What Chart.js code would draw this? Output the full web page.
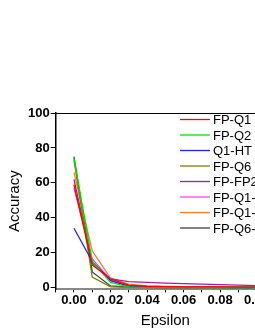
<!DOCTYPE html>
<html>
<head>
<meta charset="utf-8">
<script src="https://cdn.jsdelivr.net/npm/chart.js@4"></script>
<style>
  html, body { margin: 0; padding: 0; background: #fff; overflow: hidden; }
  #wrap { width: 255px; height: 330px; overflow: hidden; }
</style>
</head>
<body>
<div id="wrap"><canvas id="accChart" width="300" height="330"></canvas></div>
<script>
const epsilon = [0, 0.01, 0.02, 0.03, 0.04, 0.05, 0.06, 0.07, 0.08, 0.09, 0.1, 0.11];
const seriesNames = ["FP-Q1", "FP-Q2", "Q1-HT", "FP-Q6", "FP-FP2", "FP-Q1-HT", "FP-Q1-FP2", "FP-Q6-HT"];
const seriesColors = ["#ff0000", "#00e000", "#2020ff", "#808000", "#a020a0", "#ff40ff", "#ff8020", "#404040"];
const fpQ1 = [59, 13, 5, 1.5, 0.8, 0.6, 0.5, 0.4, 0.4, 0.3, 0.3, 0.3];
const fpQ2 = [74, 15, 3, 0.5, 0.3, 0.2, 0.2, 0.2, 0.1, 0.1, 0.1, 0.1];
const q1Ht = [34, 15, 4, 0.8, 0.4, 0.3, 0.2, 0.2, 0.2, 0.1, 0.1, 0.1];
const fpQ6 = [73, 6, 0.5, 0.2, 0.1, 0.1, 0.1, 0.1, 0.1, 0.1, 0.1, 0.1];
const fpFp2 = [62, 14, 5, 3.5, 3, 2.6, 2.3, 2, 1.7, 1.4, 1.2, 1.1];
const fpQ1Ht = [57, 16.5, 4.5, 1, 0.5, 0.4, 0.3, 0.3, 0.2, 0.2, 0.2, 0.2];
const fpQ1Fp2 = [66, 21, 5.5, 2, 1, 0.7, 0.6, 0.5, 0.4, 0.4, 0.3, 0.3];
const fpQ6Ht = [75, 9, 1, 0.3, 0.2, 0.1, 0.1, 0.1, 0.1, 0.1, 0.1, 0.1];
const allSeries = [fpQ1, fpQ2, q1Ht, fpQ6, fpFp2, fpQ1Ht, fpQ1Fp2, fpQ6Ht];
const yTicks = [0, 20, 40, 60, 80, 100];

const FONT = "'Liberation Sans', Arial, sans-serif";

// frame line on top of the plot + legend inside the chart area
const framePlugin = {
  id: "frame",
  afterDraw(chart) {
    const ctx = chart.ctx;
    const a = chart.chartArea;
    ctx.save();
    ctx.strokeStyle = "#000";
    ctx.lineWidth = 1;
    ctx.beginPath();
    ctx.moveTo(a.left, a.top + 0.5);
    ctx.lineTo(a.right, a.top + 0.5);
    ctx.stroke();

    ctx.font = "13px " + FONT;
    ctx.textBaseline = "middle";
    chart.data.datasets.forEach((ds, i) => {
      const y = 119.5 + i * 15.5;
      ctx.strokeStyle = ds.borderColor;
      ctx.lineWidth = 1.3;
      ctx.beginPath();
      ctx.moveTo(180, y);
      ctx.lineTo(210, y);
      ctx.stroke();
      ctx.fillStyle = "#000";
      ctx.fillText(ds.label, 213, y + 1);
    });
    ctx.restore();
  },
};

new Chart(document.getElementById("accChart"), {
  type: "line",
  data: {
    datasets: seriesNames.map((name, i) => ({
      label: name,
      data: epsilon.map((x, j) => ({ x: x, y: allSeries[i][j] })),
      borderColor: seriesColors[i],
      backgroundColor: seriesColors[i],
      borderWidth: 1.3,
      pointRadius: 0,
      fill: false,
      tension: 0,
    })),
  },
  options: {
    responsive: false,
    animation: false,
    layout: { padding: { top: 113, left: 6, right: 25, bottom: 0 } },
    plugins: {
      legend: { display: false },
      tooltip: { enabled: false },
    },
    scales: {
      x: {
        type: "linear",
        min: -0.01,
        max: 0.11,
        border: { color: "#888", width: 2 },
        grid: { display: true, drawOnChartArea: false, drawTicks: true, tickLength: 3, tickColor: "#000" },
        ticks: {
          stepSize: 0.01,
          color: "#000",
          padding: 0,
          maxRotation: 0,
          autoSkip: false,
          font: { family: FONT, size: 13, weight: "bold" },
          callback: (v) => {
            const k = Math.round(v * 100);
            if (k < 0 || k % 2 !== 0) return "";
            return (k / 100).toFixed(2);
          },
        },
        title: {
          display: true,
          text: "Epsilon",
          color: "#000",
          font: { family: FONT, size: 15 },
          padding: { top: 4, bottom: 0 },
        },
      },
      y: {
        min: -1,
        max: 100,
        border: { color: "#000", width: 1.5 },
        grid: { display: true, drawOnChartArea: false, drawTicks: true, tickLength: 5, tickColor: "#000" },
        afterBuildTicks: (axis) => {
          axis.ticks = [];
          for (let v = 0; v <= 100; v += 10) axis.ticks.push({ value: v });
        },
        ticks: {
          color: "#000",
          padding: 1,
          font: { family: FONT, size: 13, weight: "bold" },
          callback: (v) => (yTicks.includes(v) ? String(v) : ""),
        },
        title: {
          display: true,
          text: "Accuracy",
          color: "#000",
          font: { family: FONT, size: 15 },
          padding: { top: 0, bottom: 3 },
        },
      },
    },
  },
  plugins: [framePlugin],
});
</script>
</body>
</html>
